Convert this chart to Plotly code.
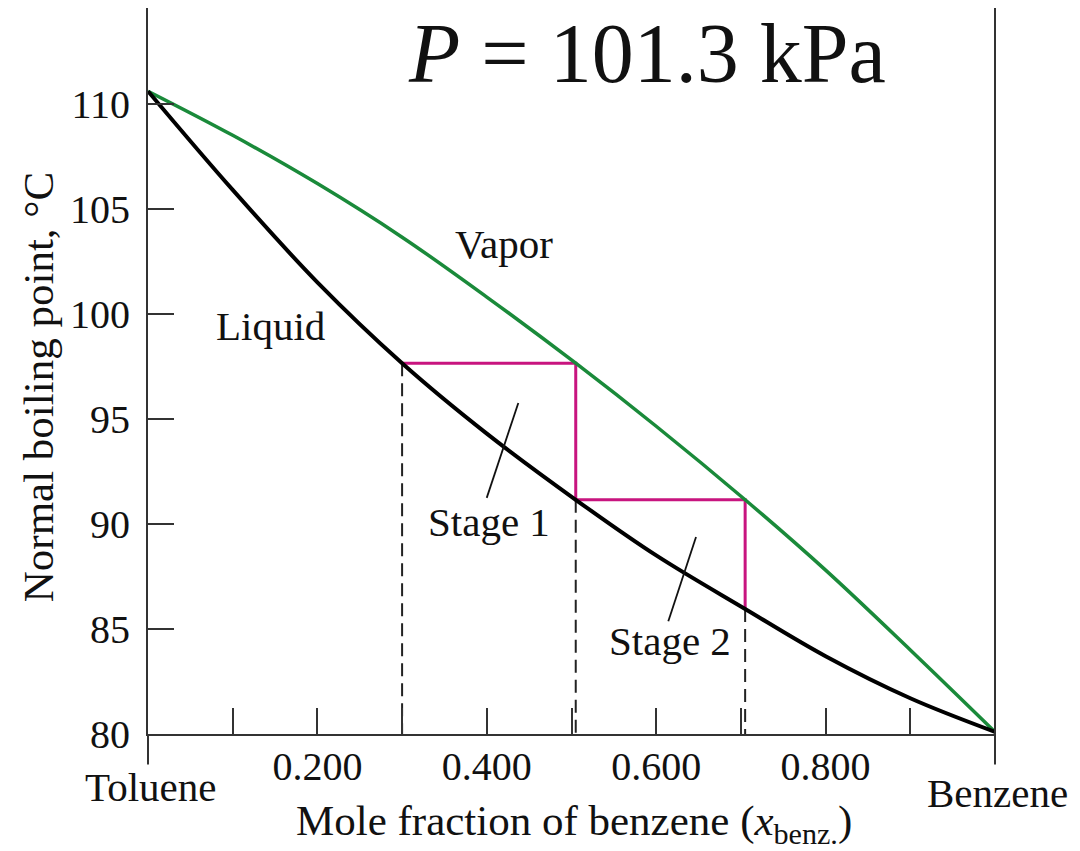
import plotly.graph_objects as go

# ---- data ----
liq_x = [0.0, 0.1, 0.2, 0.3, 0.4, 0.505, 0.6, 0.705, 0.8, 0.9, 1.0]
liq_T = [110.6, 105.9, 101.5, 97.65, 94.3, 91.15, 88.5, 85.95, 83.7, 81.7, 80.1]

vap_x = [0.0, 0.1, 0.2, 0.3, 0.4, 0.505, 0.6, 0.705, 0.8, 0.9, 1.0]
vap_T = [110.6, 108.5, 106.2, 103.65, 100.8, 97.65, 94.65, 91.15, 87.8, 84.0, 80.1]

stage_x = [0.30, 0.505, 0.505, 0.705, 0.705]
stage_T = [97.65, 97.65, 91.15, 91.15, 85.95]

drop_x = [0.30, 0.505, 0.705]
drop_T = [97.65, 91.15, 85.95]

pointer1_x = [0.4372, 0.3999]
pointer1_T = [95.76, 91.24]
pointer2_x = [0.647, 0.6143]
pointer2_T = [89.38, 85.37]

x_tickvals = [0.2, 0.4, 0.6, 0.8]
x_ticktext = ["0.200", "0.400", "0.600", "0.800"]
y_tickvals = [80, 85, 90, 95, 100, 105, 110]
y_ticktext = ["80", "85", "90", "95", "100", "105", "110"]

FONT = "Liberation Serif"
AX = "#333333"
FS_TICK = 40
FS = 41
FS_TITLE = 43

fig = go.Figure()

# dashed drop lines
dx, dy = [], []
for xv, tv in zip(drop_x, drop_T):
    dx += [xv, xv, None]
    dy += [tv, 80, None]
fig.add_trace(go.Scatter(x=dx, y=dy, mode="lines",
                         line=dict(color="#222222", width=2, dash="13px,7px"),
                         hoverinfo="skip", showlegend=False))

# stage steps
fig.add_trace(go.Scatter(x=stage_x, y=stage_T, mode="lines",
                         line=dict(color="#c8147f", width=3),
                         showlegend=False))

# vapor curve
fig.add_trace(go.Scatter(x=vap_x, y=vap_T, mode="lines", line_shape="spline",
                         line=dict(color="#1a8a3a", width=3.5), showlegend=False))
# liquid curve
fig.add_trace(go.Scatter(x=liq_x, y=liq_T, mode="lines", line_shape="spline",
                         line=dict(color="#000000", width=4), showlegend=False))

# pointer lines
for px, pt in ((pointer1_x, pointer1_T), (pointer2_x, pointer2_T)):
    fig.add_trace(go.Scatter(x=px, y=pt, mode="lines",
                             line=dict(color="#111111", width=1.8),
                             showlegend=False))

# axis-line extensions (left axis below, right border line)
ext = -(765 - 734.5) / 726.5
fig.add_shape(type="line", xref="paper", yref="paper", x0=0, x1=0, y0=ext, y1=0,
              line=dict(color=AX, width=2))
fig.add_shape(type="line", xref="paper", yref="paper", x0=1, x1=1, y0=ext, y1=1,
              line=dict(color=AX, width=2))

def ann(text, x, y, xref="x", yref="y", size=FS, **kw):
    fig.add_annotation(text=text, x=x, y=y, xref=xref, yref=yref, showarrow=False,
                       font=dict(family=FONT, size=size, color="#111111"),
                       xanchor="center", yanchor="middle", **kw)

ann("Vapor", 0.4203, 103.33)
ann("Liquid", 0.1452, 99.41)
ann("Stage 1", 0.4026, 90.09)
ann("Stage 2", 0.6163, 84.45)
ann("Toluene", 0.0024, -0.0736, xref="paper", yref="paper")
ann("Benzene", 1.0035, -0.0819, xref="paper", yref="paper")
ann("<i>P</i> = 101.3 kPa", 0.5886, 0.937, xref="paper", yref="paper", size=84)
ann("Normal boiling point, °C", -0.1293, 0.4783, xref="paper", yref="paper",
    size=FS_TITLE, textangle=-90)
ann("Mole fraction of benzene (<i>x</i><sub>benz.</sub>)", 0.503, -0.1246,
    xref="paper", yref="paper", size=FS_TITLE)

fig.update_xaxes(range=[0, 1], showline=True, linecolor=AX, linewidth=2,
                 ticks="inside", ticklen=26, tickwidth=2, tickcolor=AX,
                 tickvals=x_tickvals, ticktext=x_ticktext, showgrid=False,
                 zeroline=False, ticklabelstandoff=-4,
                 minor=dict(ticks="inside", ticklen=26, tickwidth=2, tickcolor=AX,
                            tick0=0.1, dtick=0.2, showgrid=False),
                 tickfont=dict(family=FONT, size=FS_TICK, color="#111111"))
fig.update_yaxes(range=[80, 114.56], showline=True, linecolor=AX, linewidth=2,
                 ticks="inside", ticklen=26, tickwidth=2, tickcolor=AX,
                 tickvals=y_tickvals, ticktext=y_ticktext, showgrid=False,
                 zeroline=False, ticklabelstandoff=8,
                 tickfont=dict(family=FONT, size=FS_TICK, color="#111111"))

# page body has an 8px margin: shrink the figure by 8px and shift margins
fig.update_layout(width=1072, height=843, margin=dict(l=140, r=85, t=0, b=117, pad=0),
                  plot_bgcolor="white", paper_bgcolor="white", showlegend=False)

fig.write_html("out.html")
